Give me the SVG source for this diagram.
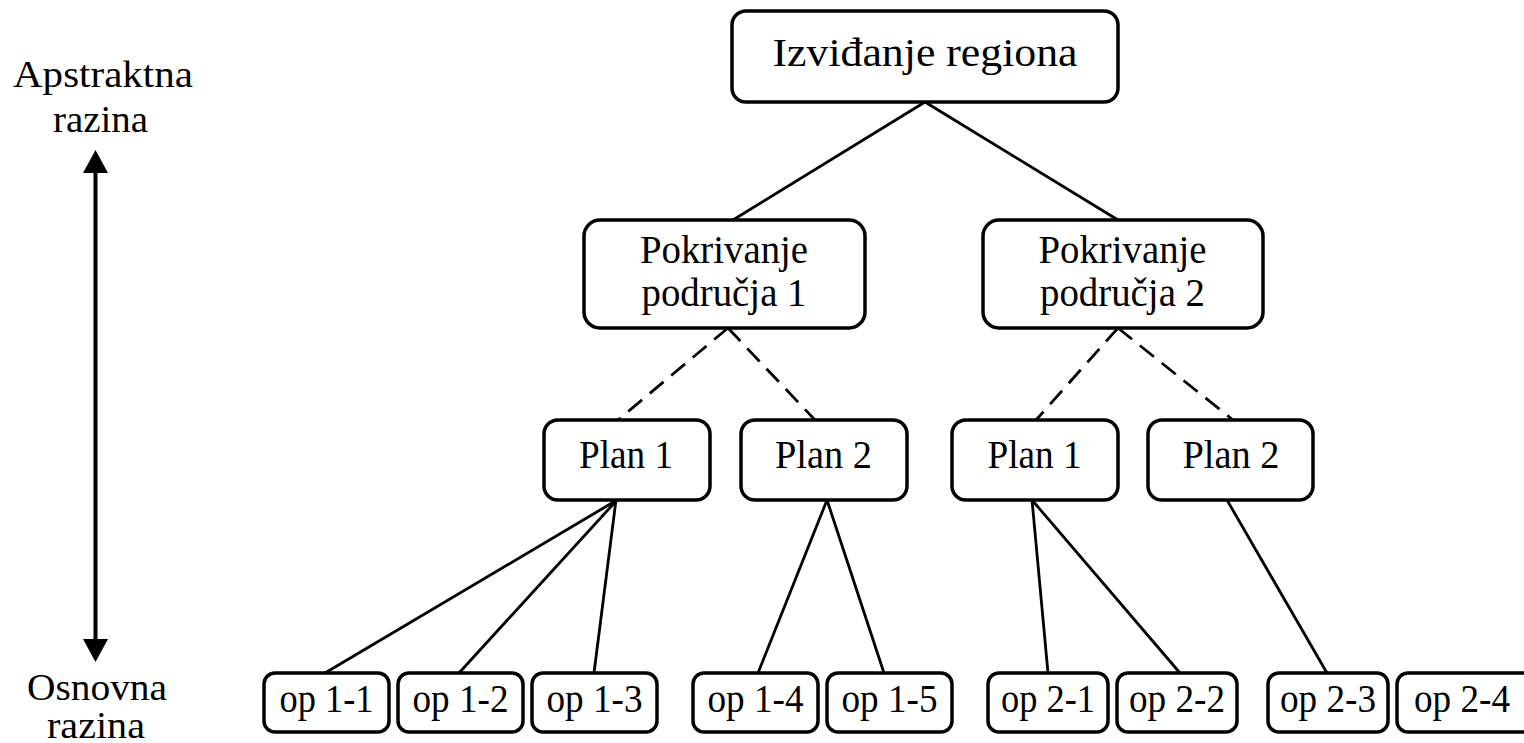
<svg xmlns="http://www.w3.org/2000/svg" width="1524" height="743" viewBox="0 0 1524 743">
  <style>
    .box { fill: #ffffff; stroke: #000000; stroke-width: 3.5; }
    .lbl { font-family: "Liberation Serif", "Times New Roman", serif; font-size: 39px; fill: #000000; text-anchor: middle; }
    .side { font-size: 37px; }
    .edge { stroke: #000000; stroke-width: 2.8; fill: none; }
    .dash { stroke-dasharray: 18 10; }
  </style>

  <!-- level axis -->
  <g id="axis">
    <line x1="95.5" y1="170" x2="95.5" y2="642" stroke="#000" stroke-width="4"/>
    <polygon points="95.5,150 83,173 108,173" fill="#000"/>
    <polygon points="95.5,662 83,639 108,639" fill="#000"/>
    <text class="lbl side" x="103" y="87" textLength="180" lengthAdjust="spacingAndGlyphs">Apstraktna</text>
    <text class="lbl side" x="100.5" y="132" textLength="95" lengthAdjust="spacingAndGlyphs">razina</text>
    <text class="lbl side" x="97" y="700" textLength="140" lengthAdjust="spacingAndGlyphs">Osnovna</text>
    <text class="lbl side" x="96" y="738" textLength="98" lengthAdjust="spacingAndGlyphs">razina</text>
  </g>

  <!-- connectors -->
  <g id="connectors">
    <line class="edge" x1="925" y1="102" x2="733" y2="220"/>
    <line class="edge" x1="925" y1="102" x2="1118" y2="220"/>
    <line class="edge dash" x1="728" y1="328" x2="618" y2="420"/>
    <line class="edge dash" x1="728" y1="328" x2="815" y2="420"/>
    <line class="edge dash" x1="1118" y1="328" x2="1036" y2="420"/>
    <line class="edge dash" x1="1118" y1="328" x2="1233" y2="420"/>
    <line class="edge" x1="617" y1="500" x2="325" y2="673"/>
    <line class="edge" x1="617" y1="500" x2="459" y2="673"/>
    <line class="edge" x1="616" y1="500" x2="594" y2="673"/>
    <line class="edge" x1="827" y1="500" x2="758" y2="673"/>
    <line class="edge" x1="827" y1="500" x2="884" y2="673"/>
    <line class="edge" x1="1032" y1="500" x2="1048" y2="673"/>
    <line class="edge" x1="1032" y1="500" x2="1180" y2="673"/>
    <line class="edge" x1="1227" y1="500" x2="1327" y2="673"/>
  </g>

  <!-- top level -->
  <g id="izvidjanje">
    <rect class="box" x="732" y="11" width="386" height="91" rx="14"/>
    <text class="lbl" x="925" y="66" textLength="305" lengthAdjust="spacingAndGlyphs">Izviđanje regiona</text>
  </g>

  <!-- area coverage -->
  <g id="pokrivanje1">
    <rect class="box" x="584" y="220" width="281" height="108" rx="16"/>
    <text class="lbl" x="724" y="263" textLength="168" lengthAdjust="spacingAndGlyphs">Pokrivanje</text>
    <text class="lbl" x="724" y="306" textLength="165" lengthAdjust="spacingAndGlyphs">područja 1</text>
  </g>
  <g id="pokrivanje2">
    <rect class="box" x="983" y="220" width="280" height="108" rx="16"/>
    <text class="lbl" x="1122.5" y="263" textLength="168" lengthAdjust="spacingAndGlyphs">Pokrivanje</text>
    <text class="lbl" x="1122.5" y="306" textLength="165" lengthAdjust="spacingAndGlyphs">područja 2</text>
  </g>

  <!-- plans -->
  <g id="plan1a">
    <rect class="box" x="544" y="420" width="166" height="80" rx="14"/>
    <text class="lbl" x="626" y="468" textLength="94" lengthAdjust="spacingAndGlyphs">Plan 1</text>
  </g>
  <g id="plan2a">
    <rect class="box" x="741" y="420" width="166" height="80" rx="14"/>
    <text class="lbl" x="823.5" y="468" textLength="97" lengthAdjust="spacingAndGlyphs">Plan 2</text>
  </g>
  <g id="plan1b">
    <rect class="box" x="952" y="420" width="166" height="80" rx="14"/>
    <text class="lbl" x="1034.5" y="468" textLength="94" lengthAdjust="spacingAndGlyphs">Plan 1</text>
  </g>
  <g id="plan2b">
    <rect class="box" x="1148" y="420" width="165" height="80" rx="14"/>
    <text class="lbl" x="1231" y="468" textLength="97" lengthAdjust="spacingAndGlyphs">Plan 2</text>
  </g>

  <!-- operations -->
  <g id="op1-1">
    <rect class="box" x="264" y="673" width="125" height="59" rx="11"/>
    <text class="lbl" x="326.5" y="712" textLength="94" lengthAdjust="spacingAndGlyphs">op 1-1</text>
  </g>
  <g id="op1-2">
    <rect class="box" x="398" y="673" width="125" height="59" rx="11"/>
    <text class="lbl" x="460.5" y="712" textLength="96" lengthAdjust="spacingAndGlyphs">op 1-2</text>
  </g>
  <g id="op1-3">
    <rect class="box" x="532" y="673" width="125" height="59" rx="11"/>
    <text class="lbl" x="594.5" y="712" textLength="96" lengthAdjust="spacingAndGlyphs">op 1-3</text>
  </g>
  <g id="op1-4">
    <rect class="box" x="693" y="673" width="125" height="59" rx="11"/>
    <text class="lbl" x="755.5" y="712" textLength="96" lengthAdjust="spacingAndGlyphs">op 1-4</text>
  </g>
  <g id="op1-5">
    <rect class="box" x="827" y="673" width="125" height="59" rx="11"/>
    <text class="lbl" x="889.5" y="712" textLength="96" lengthAdjust="spacingAndGlyphs">op 1-5</text>
  </g>
  <g id="op2-1">
    <rect class="box" x="988" y="673" width="120" height="59" rx="11"/>
    <text class="lbl" x="1048" y="712" textLength="94" lengthAdjust="spacingAndGlyphs">op 2-1</text>
  </g>
  <g id="op2-2">
    <rect class="box" x="1117" y="673" width="120" height="59" rx="11"/>
    <text class="lbl" x="1177" y="712" textLength="96" lengthAdjust="spacingAndGlyphs">op 2-2</text>
  </g>
  <g id="op2-3">
    <rect class="box" x="1268" y="673" width="120" height="59" rx="11"/>
    <text class="lbl" x="1328" y="712" textLength="96" lengthAdjust="spacingAndGlyphs">op 2-3</text>
  </g>
  <g id="op2-4">
    <rect class="box" x="1397" y="673" width="150" height="59" rx="11"/>
    <text class="lbl" x="1462" y="712" textLength="96" lengthAdjust="spacingAndGlyphs">op 2-4</text>
  </g>
</svg>
